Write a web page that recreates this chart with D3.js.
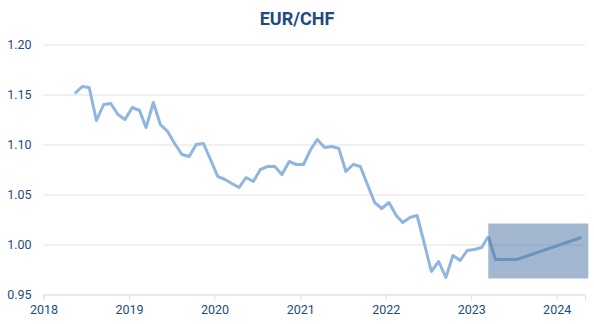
<!DOCTYPE html>
<html>
<head>
<meta charset="utf-8">
<script src="https://cdn.jsdelivr.net/npm/d3@7"></script>
<style>
  body { margin: 0; background: #fff; }
  text { font-family: Roboto, "Open Sans", sans-serif; }
</style>
</head>
<body>
<svg id="chart" width="594" height="324"></svg>
<script>
// EUR/CHF monthly, plus forecast path and shaded forecast band
var actualMonths = [
  '2018-05','2018-06','2018-07','2018-08','2018-09','2018-10','2018-11','2018-12',
  '2019-01','2019-02','2019-03','2019-04','2019-05','2019-06','2019-07','2019-08','2019-09','2019-10','2019-11','2019-12',
  '2020-01','2020-02','2020-03','2020-04','2020-05','2020-06','2020-07','2020-08','2020-09','2020-10','2020-11','2020-12',
  '2021-01','2021-02','2021-03','2021-04','2021-05','2021-06','2021-07','2021-08','2021-09','2021-10','2021-11','2021-12',
  '2022-01','2022-02','2022-03','2022-04','2022-05','2022-06','2022-07','2022-08','2022-09','2022-10','2022-11','2022-12',
  '2023-01','2023-02','2023-03'
];
var actualValues = [
  1.151, 1.158, 1.157, 1.124, 1.140, 1.141, 1.130, 1.125,
  1.137, 1.134, 1.117, 1.142, 1.120, 1.113, 1.101, 1.090, 1.088, 1.100, 1.101, 1.085,
  1.068, 1.065, 1.061, 1.057, 1.067, 1.063, 1.075, 1.078, 1.078, 1.070, 1.083, 1.080,
  1.080, 1.095, 1.105, 1.097, 1.098, 1.096, 1.073, 1.080, 1.078, 1.060, 1.042, 1.036,
  1.042, 1.029, 1.022, 1.027, 1.029, 1.001, 0.973, 0.983, 0.967, 0.989, 0.984, 0.994,
  0.995, 0.997, 1.008
];

var forecastMonths = ['2023-03', '2023-04', '2023-07', '2024-04'];
var forecastValues = [1.008, 0.985, 0.985, 1.007];

// forecast range box
var bandMonths = ['2023-03', '2024-05'];
var bandValues = [0.966, 1.021];

var yTicks = [0.95, 1.00, 1.05, 1.10, 1.15, 1.20];
var xTickYears = [2018, 2019, 2020, 2021, 2022, 2023, 2024];

var textColor = '#1f4b7d';
var gridColor = '#e1e1e1';
var lineColor = '#8fb5e0';

function midMonth(s){
  var p = s.split('-');
  return new Date(+p[0], +p[1] - 1, 15);
}

var svg = d3.select('#chart');

var x = d3.scaleTime()
  .domain([new Date(2018, 0, 1), new Date(2024, 4, 1)])
  .range([43.5, 585]);

var y = d3.scaleLinear()
  .domain([0.95, 1.20])
  .range([294.5, 44.5]);

// title
svg.append('text')
  .attr('x', 297)
  .attr('y', 25)
  .attr('text-anchor', 'middle')
  .style('font-size', '18px')
  .style('font-weight', 'bold')
  .style('fill', textColor)
  .text('EUR/CHF');

// horizontal grid + y labels
var yAxis = d3.axisLeft(y)
  .tickValues(yTicks)
  .tickFormat(d3.format('.2f'))
  .tickSize(-(585 - 43.5))
  .tickPadding(12);

var yg = svg.append('g')
  .attr('transform', 'translate(43.5,0)')
  .call(yAxis);
yg.select('.domain').remove();
yg.selectAll('.tick line').attr('stroke', gridColor);
yg.selectAll('.tick text')
  .style('font-size', '12.5px')
  .style('fill', textColor);

// x axis with small ticks
var xAxis = d3.axisBottom(x)
  .tickValues(xTickYears.map(function(yr){ return new Date(yr, 0, 1); }))
  .tickFormat(d3.timeFormat('%Y'))
  .tickSize(6)
  .tickPadding(5);

var xg = svg.append('g')
  .attr('transform', 'translate(0,294.5)')
  .call(xAxis);
xg.select('.domain').attr('stroke', gridColor);
xg.selectAll('.tick line').attr('stroke', gridColor);
xg.selectAll('.tick text')
  .style('font-size', '12.5px')
  .style('fill', textColor);

var line = d3.line()
  .x(function(d){ return x(d[0]); })
  .y(function(d){ return y(d[1]); });

var actual = actualMonths.map(function(m, i){ return [midMonth(m), actualValues[i]]; });
var forecast = forecastMonths.map(function(m, i){ return [midMonth(m), forecastValues[i]]; });

svg.append('path')
  .datum(actual)
  .attr('d', line)
  .attr('fill', 'none')
  .attr('stroke', lineColor)
  .attr('stroke-width', 3)
  .attr('stroke-linejoin', 'round');

svg.append('path')
  .datum(forecast)
  .attr('d', line)
  .attr('fill', 'none')
  .attr('stroke', lineColor)
  .attr('stroke-width', 3)
  .attr('stroke-linejoin', 'round');

// shaded forecast box sits on top, lines show through darker
svg.append('rect')
  .attr('x', x(midMonth(bandMonths[0])))
  .attr('y', y(bandValues[1]))
  .attr('width', x(midMonth(bandMonths[1])) - x(midMonth(bandMonths[0])))
  .attr('height', y(bandValues[0]) - y(bandValues[1]))
  .attr('fill', 'rgb(69,111,159)')
  .attr('fill-opacity', 0.5);
</script>
</body>
</html>
